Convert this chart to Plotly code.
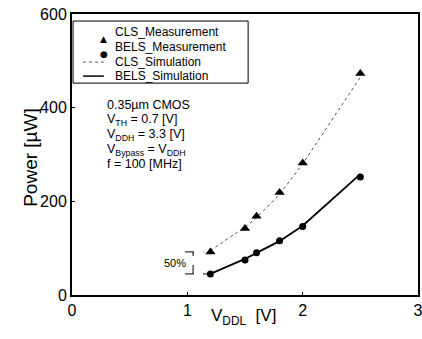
import plotly.graph_objects as go

vddl_meas = [1.2, 1.5, 1.6, 1.8, 2.0, 2.5]
cls_meas = [92, 142, 168, 219, 282, 473]
bels_meas = [45, 75, 90, 116, 146, 252]

vddl_sim = [1.2, 1.5, 1.6, 1.8, 2.0, 2.5]
cls_sim = [95, 145, 165, 215, 280, 465]
bels_sim = [45, 77, 90, 115, 148, 258]

x_ticks = [0, 1, 2, 3]
y_ticks = [0, 200, 400, 600]

legend_names = ["CLS_Measurement", "BELS_Measurement", "CLS_Simulation", "BELS_Simulation"]
info_lines = ["0.35µm CMOS", "V<sub>TH</sub> = 0.7 [V]", "V<sub>DDH</sub> = 3.3 [V]",
              "V<sub>Bypass</sub> = V<sub>DDH</sub>", "f = 100 [MHz]"]

FONT = "Liberation Sans, Arial, sans-serif"
SIM_CLS_COLOR = "#555555"

fig = go.Figure()
fig.add_trace(go.Scatter(x=vddl_sim, y=cls_sim, mode="lines", name=legend_names[2],
                         line=dict(color=SIM_CLS_COLOR, width=1, dash="dot")))
fig.add_trace(go.Scatter(x=vddl_sim, y=bels_sim, mode="lines", name=legend_names[3],
                         line=dict(color="black", width=1.8)))
fig.add_trace(go.Scatter(x=vddl_meas, y=cls_meas, mode="markers", name=legend_names[0],
                         marker=dict(symbol="triangle-up", size=9, color="black")))
fig.add_trace(go.Scatter(x=vddl_meas, y=bels_meas, mode="markers", name=legend_names[1],
                         marker=dict(symbol="circle", size=7, color="black")))

# 50% annotation lines
fig.add_shape(type="line", x0=0.98, x1=1.14, y0=cls_meas[0], y1=cls_meas[0],
              line=dict(color="black", width=1, dash="dash"))
fig.add_shape(type="line", x0=0.98, x1=1.18, y0=bels_meas[0], y1=bels_meas[0],
              line=dict(color="black", width=1, dash="dash"))
fig.add_shape(type="line", x0=1.05, x1=1.05, y0=bels_meas[0], y1=cls_meas[0],
              line=dict(color="black", width=1, dash="dash"))
fig.add_annotation(x=1.01, y=(cls_meas[0] + bels_meas[0]) / 2, text="50%", showarrow=False,
                   xanchor="right", font=dict(size=11, color="black", family=FONT))

# Manual legend (paper coordinates)
fig.add_shape(type="rect", xref="paper", yref="paper", x0=0.003, x1=0.509, y0=0.754, y1=0.975,
              line=dict(color="black", width=1), fillcolor="white", layer="above")
rows = [0.936, 0.883, 0.829, 0.779]
fig.add_annotation(x=0.075, y=rows[0], xref="paper", yref="paper", text="▲", showarrow=False,
                   font=dict(size=9, color="black", family="DejaVu Sans"))
fig.add_annotation(x=0.075, y=rows[1], xref="paper", yref="paper", text="●", showarrow=False,
                   font=dict(size=9, color="black", family="DejaVu Sans"))
fig.add_shape(type="line", xref="paper", yref="paper", x0=0.032, x1=0.092, y0=rows[2], y1=rows[2],
              line=dict(color=SIM_CLS_COLOR, width=1, dash="dot"))
fig.add_shape(type="line", xref="paper", yref="paper", x0=0.032, x1=0.092, y0=rows[3], y1=rows[3],
              line=dict(color="black", width=1.5))
for name, ry in zip(legend_names, rows):
    fig.add_annotation(x=0.118, y=ry, xref="paper", yref="paper", text=name, showarrow=False,
                       xanchor="left", yanchor="middle", font=dict(size=12, color="black", family=FONT))

# Info text block
info_y = [0.676, 0.624, 0.570, 0.517, 0.466]
for line, iy in zip(info_lines, info_y):
    fig.add_annotation(x=0.095, y=iy, xref="paper", yref="paper", text=line, showarrow=False,
                       xanchor="left", yanchor="middle", align="left",
                       font=dict(size=12.5, color="black", family=FONT))

# Axis titles
fig.add_annotation(x=-0.156, y=0.49, xref="paper", yref="paper", text="Power [µW]", textangle=-90,
                   showarrow=False, font=dict(size=19, color="black", family=FONT))
fig.add_annotation(x=0.395, y=-0.125, xref="paper", yref="paper", text="V<sub>DDL</sub>  [V]",
                   xanchor="left", showarrow=False, font=dict(size=17, color="black", family=FONT))

fig.update_layout(
    width=422, height=339,
    margin=dict(l=72, r=4, t=14, b=44),
    paper_bgcolor="white", plot_bgcolor="white",
    font=dict(family=FONT, color="black"),
    showlegend=False,
    xaxis=dict(range=[0, 3], tickvals=x_ticks, ticktext=[str(v) for v in x_ticks],
               showgrid=False, zeroline=False, showline=True, linecolor="black", linewidth=2,
               mirror=True, ticks="inside", ticklen=3, tickcolor="black", automargin=False,
               ticklabeloverflow="allow", tickfont=dict(size=16)),
    yaxis=dict(range=[0, 600], tickvals=y_ticks, ticktext=[str(v) for v in y_ticks],
               showgrid=False, zeroline=False, showline=True, linecolor="black", linewidth=2,
               mirror=True, ticks="inside", ticklen=3, tickcolor="black", automargin=False,
               ticklabeloverflow="allow", tickfont=dict(size=16)),
)

fig.write_html("out.html", config={"displayModeBar": False},
               post_script="document.body.style.margin='0';document.body.style.overflow='hidden';")
